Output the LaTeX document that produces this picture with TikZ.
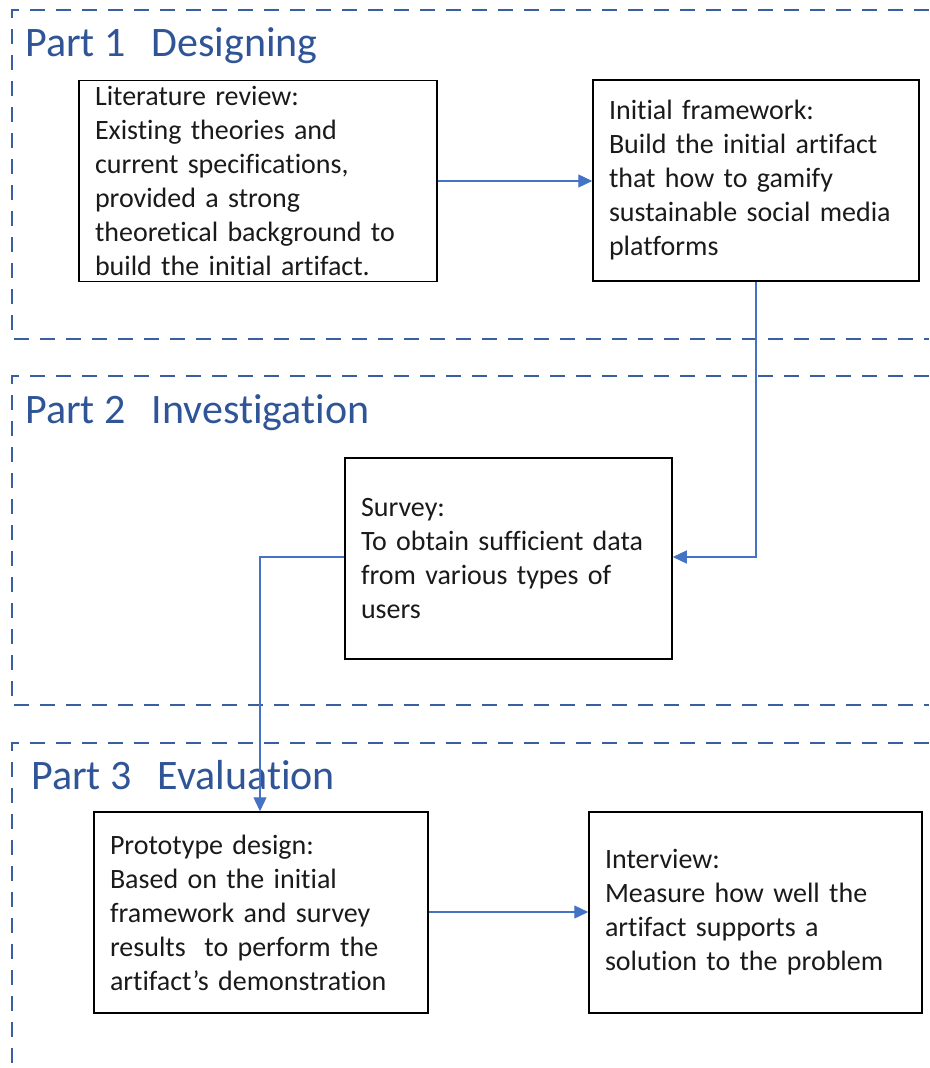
\documentclass[tikz,border=0pt]{standalone}
\usepackage{fontspec}
\setmainfont{Carlito}[Ligatures=NoCommon]
\usetikzlibrary{arrows.meta}
\definecolor{frameblue}{HTML}{3A5FA0}
\definecolor{titleblue}{HTML}{2F5597}
\definecolor{arrowblue}{HTML}{4472C4}
\definecolor{txt}{HTML}{1A1A1A}
\begin{document}
\begin{tikzpicture}[x=1pt,y=-1pt,
  frame/.style={draw=frameblue, line width=1.4pt, dash pattern=on 15pt off 11pt},
  title/.style={anchor=base west, inner sep=0pt, text=titleblue, font=\fontsize{42}{48}\selectfont},
  box/.style={draw=black, line width=1.5pt, inner xsep=16pt, inner ysep=0pt, minimum height=201pt,
    align=left, text=txt, font=\fontsize{28}{34}\selectfont},
  conn/.style={draw=arrowblue, line width=1.3pt},
  tip/.style={-{Triangle[length=14pt,width=13pt]}}]
\useasboundingbox (0,0) rectangle (929,1068);
% frames
\draw[frame] (929,10) -- (12,10) -- (12,339) -- (929,339);
\draw[frame] (929,376) -- (12,376) -- (12,705) -- (929,705);
\draw[frame] (929,743) -- (12,743) -- (12,1068);
% titles
\node[title] (t1) at (25,56) {Part 1\hspace{0.62em}Designing};
\node[title] (t2) at (25,423) {Part 2\hspace{0.62em}Investigation};
\node[title] (t3) at (31,789) {Part 3\hspace{0.62em}Evaluation};
% boxes
\node[box, text width=326pt] (lit) at (258,181)
  {Literature review:\\Existing theories and\\current specifications,\\provided a strong\\theoretical background to\\build the initial artifact.};
\node[box, text width=294pt] (init) at (756,180.5)
  {Initial framework:\\Build the initial artifact\\that how to gamify\\sustainable social media\\platforms};
\node[box, text width=295pt] (survey) at (508.5,558.5)
  {Survey:\\To obtain sufficient data\\from various types of\\users};
\node[box, text width=302pt] (proto) at (261,912.5)
  {Prototype design:\\Based on the initial\\framework and survey\\results\ \ to perform the\\artifact’s demonstration};
\node[box, text width=301pt] (inter) at (755.5,912.5)
  {Interview:\\Measure how well the\\artifact supports a\\solution to the problem};
% connectors
\draw[conn,tip] (lit.east |- 0,181) -- (init.west |- 0,181);
\draw[conn,tip] (init.south) -- (756,557) -- (survey.east |- 0,557);
\draw[conn,tip] (survey.west |- 0,557) -- (260,557) -- (proto.north -| 260,0);
\draw[conn,tip] (proto.east |- 0,912) -- (inter.west |- 0,912);
\end{tikzpicture}
\end{document}
